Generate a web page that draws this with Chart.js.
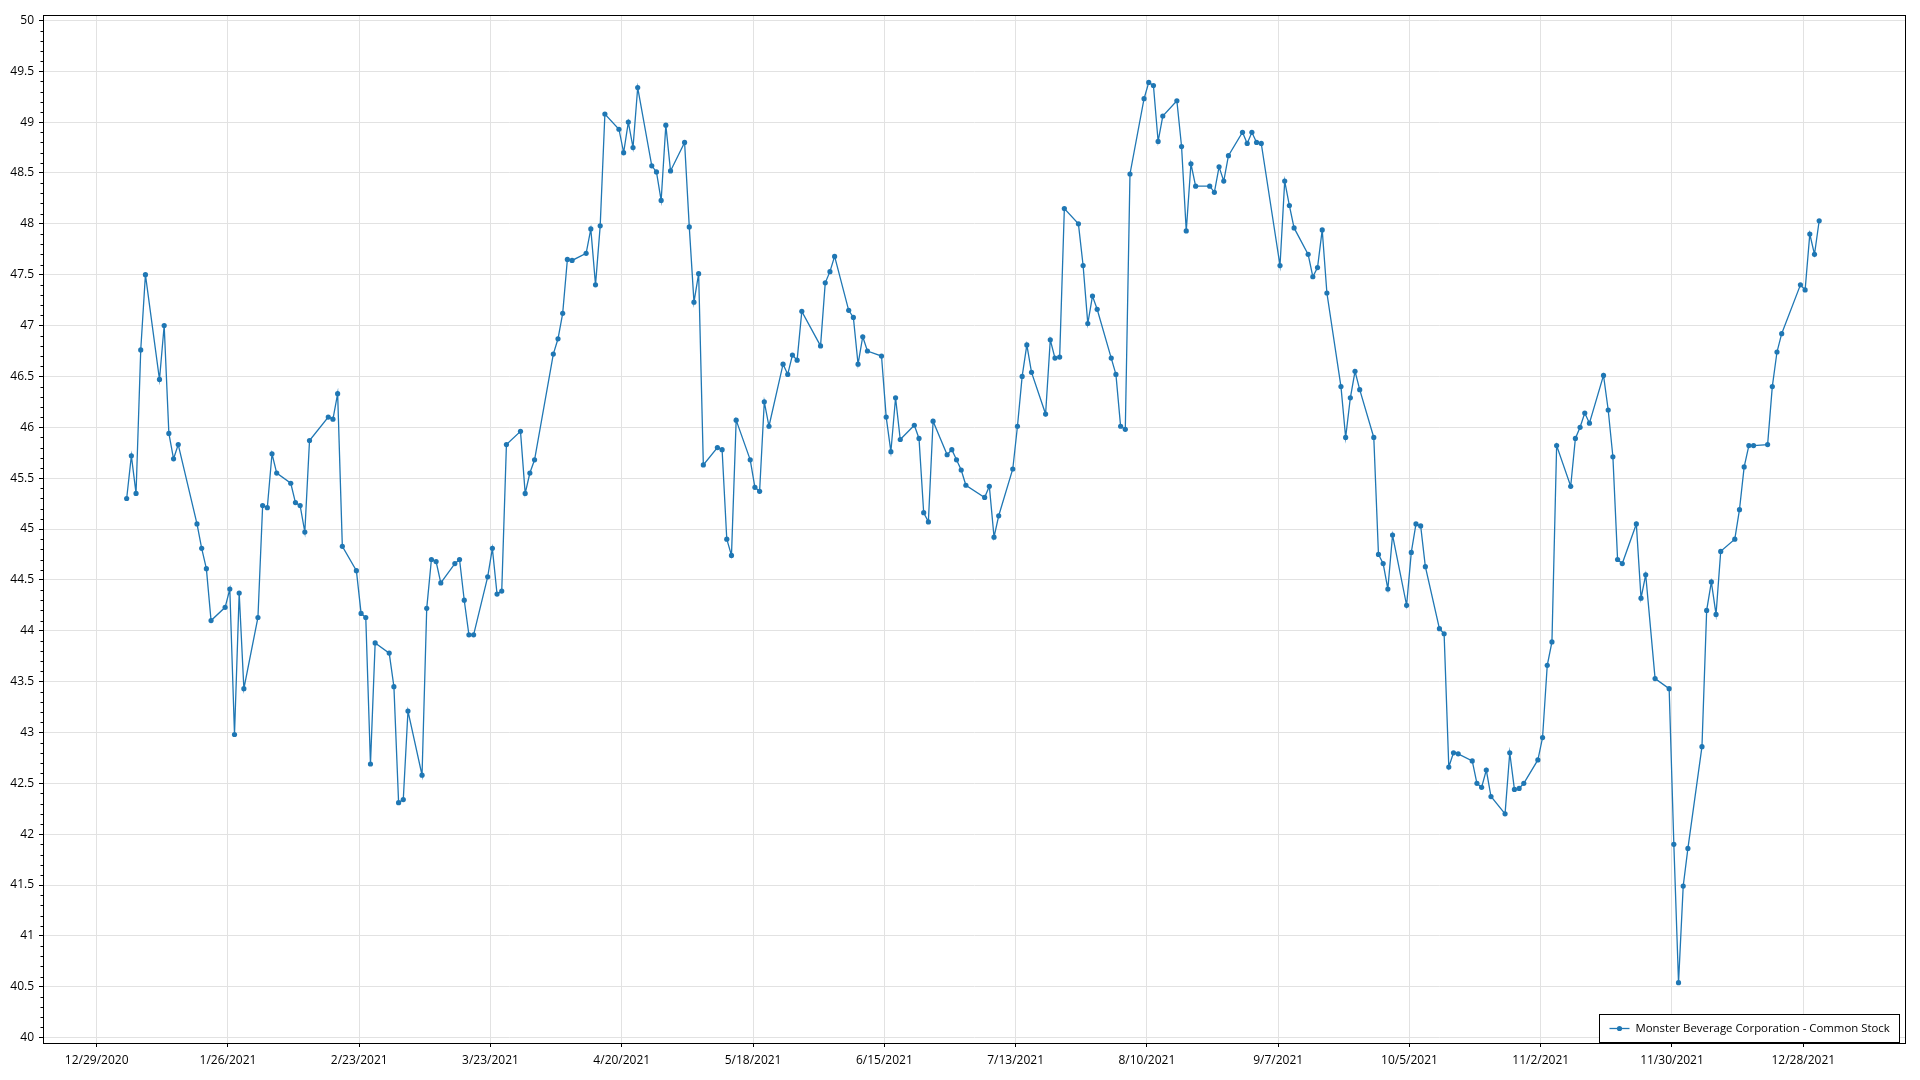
<!DOCTYPE html>
<html>
<head>
<meta charset="utf-8">
<script src="https://cdn.jsdelivr.net/npm/chart.js@4/dist/chart.umd.min.js"></script>
<style>
html,body{margin:0;padding:0;background:#fff;overflow:hidden}
canvas{display:block}
</style>
</head>
<body>
<canvas id="c" width="1920" height="1080"></canvas>
<script>
// ---------------- data ----------------
const seriesLabel = 'Monster Beverage Corporation - Common Stock';
const marketHolidays = ['2021-01-01','2021-01-18','2021-02-15','2021-04-02','2021-05-31','2021-07-05','2021-09-06','2021-11-25','2021-12-24'];

const closeJan = [45.30,45.72,45.35,46.76,47.50,46.47,47.00,45.94,45.69,45.83,45.05,44.81,44.61,44.10,44.23,44.41,42.98,44.37,43.43];
const closeFeb = [44.13,45.23,45.21,45.74,45.55,45.45,45.26,45.23,44.97,45.87,46.10,46.08,46.33,44.83,44.59,44.17,44.13,42.69,43.88];
const closeMar = [43.78,43.45,42.31,42.34,43.21,42.58,44.22,44.70,44.68,44.47,44.66,44.70,44.30,43.96,43.96,44.53,44.81,44.36,44.39,45.83,45.96,45.35,45.55];
const closeApr = [45.68,46.72,46.87,47.12,47.65,47.64,47.71,47.95,47.40,47.98,49.08,48.93,48.70,49.00,48.75,49.34,48.57,48.51,48.23,48.97,48.52];
const closeMay = [48.80,47.97,47.23,47.51,45.63,45.80,45.78,44.90,44.74,46.07,45.68,45.41,45.37,46.25,46.01,46.62,46.52,46.71,46.66,47.14];
const closeJun = [46.80,47.42,47.53,47.68,47.15,47.08,46.62,46.89,46.75,46.70,46.10,45.76,46.29,45.88,46.02,45.89,45.16,45.07,46.06,45.73,45.78,45.68];
const closeJul = [45.58,45.43,45.31,45.42,44.92,45.13,45.59,46.01,46.50,46.81,46.54,46.13,46.86,46.68,46.69,48.15,48.00,47.59,47.02,47.29,47.16];
const closeAug = [46.68,46.52,46.01,45.98,48.49,49.23,49.39,49.36,48.81,49.06,49.21,48.76,47.93,48.59,48.37,48.37,48.31,48.56,48.42,48.67,48.90,48.79];
const closeSep = [48.90,48.80,48.79,47.59,48.42,48.18,47.96,47.70,47.48,47.57,47.94,47.32,46.40,45.90,46.29,46.55,46.37,45.90,44.75,44.66,44.41];
const closeOct = [44.94,44.25,44.77,45.05,45.03,44.63,44.02,43.97,42.66,42.80,42.79,42.72,42.50,42.46,42.63,42.37,42.20,42.80,42.44,42.45,42.50];
const closeNov = [42.73,42.95,43.66,43.89,45.82,45.42,45.89,46.00,46.14,46.04,46.51,46.17,45.71,44.70,44.66,45.05,44.32,44.55,43.53,43.43,41.90];
const closeDec = [40.54,41.49,41.86,42.86,44.20,44.48,44.16,44.78,44.90,45.19,45.61,45.82,45.82,45.83,46.40,46.74,46.92,47.40,47.35,47.90,47.70,48.03];

const xTickLabels = ['12/29/2020','1/26/2021','2/23/2021','3/23/2021','4/20/2021','5/18/2021','6/15/2021','7/13/2021','8/10/2021','9/7/2021','10/5/2021','11/2/2021','11/30/2021','12/28/2021'];
const yTickLabels = ['40','40.5','41','41.5','42','42.5','43','43.5','44','44.5','45','45.5','46','46.5','47','47.5','48','48.5','49','49.5','50'];

// ---------------- build ----------------
const DAY = 86400000;
const origin = Date.UTC(2020, 11, 29);
const sessionOffset = 9.5 / 24; // quotes stamped at market open
const monthly = [closeJan,closeFeb,closeMar,closeApr,closeMay,closeJun,closeJul,closeAug,closeSep,closeOct,closeNov,closeDec];

function iso(t){ return new Date(t).toISOString().slice(0,10); }
const points = [];
for (let m = 0; m < 12; m++) {
  const vals = monthly[m];
  let k = 0;
  const days = new Date(Date.UTC(2021, m + 1, 0)).getUTCDate();
  for (let d = 1; d <= days; d++) {
    const t = Date.UTC(2021, m, d);
    const wd = new Date(t).getUTCDay();
    if (wd === 0 || wd === 6 || marketHolidays.includes(iso(t))) continue;
    if (k < vals.length) points.push({ x: (t - origin) / DAY + sessionOffset, y: vals[k] });
    k++;
  }
}
function parseMDY(s){ const [mo,da,yr] = s.split('/').map(Number); return (Date.UTC(yr, mo-1, da) - origin) / DAY; }
const xTickValues = xTickLabels.map(parseMDY);
const yTickValues = yTickLabels.map(Number);

const FONT = '"Open Sans", "Noto Sans", sans-serif';
const lineColor = '#1f77b4';

const frame = {
  id: 'frame',
  afterDraw(chart) {
    const { ctx, chartArea: a, scales } = chart;
    ctx.save();
    // minor ticks on y axis
    ctx.strokeStyle = '#000';
    ctx.lineWidth = 1;
    const ys = scales.y;
    ctx.beginPath();
    for (let i = 0; i <= 100; i++) {
      const v = 40 + i * 0.1;
      if (i % 5 === 0) continue;
      const py = Math.round(ys.getPixelForValue(v)) + 0.5;
      ctx.moveTo(a.left - 2.5, py); ctx.lineTo(a.left, py);
    }
    ctx.stroke();
    // plot border
    ctx.strokeRect(Math.round(a.left) + 0.5, Math.round(a.top) + 0.5, Math.round(a.right - a.left), Math.round(a.bottom - a.top));
    // legend
    const text = chart.data.datasets[0].label;
    ctx.font = '11.4px ' + FONT;
    const tw = ctx.measureText(text).width;
    const h = 28, padL = 10, sample = 20, gap = 6, padR = 10;
    const w = Math.round(padL + sample + gap + tw + padR);
    const bx = Math.round(a.right - 6 - w) + 0.5, by = Math.round(a.bottom - 1 - h) + 0.5;
    ctx.fillStyle = '#fff';
    ctx.fillRect(bx, by, w, h);
    ctx.strokeStyle = '#000';
    ctx.strokeRect(bx, by, w, h);
    const cy = by + h / 2;
    ctx.strokeStyle = lineColor; ctx.lineWidth = 1.3;
    ctx.beginPath(); ctx.moveTo(bx + padL, cy); ctx.lineTo(bx + padL + sample, cy); ctx.stroke();
    ctx.fillStyle = lineColor;
    ctx.beginPath(); ctx.arc(bx + padL + sample / 2, cy, 2.6, 0, Math.PI * 2); ctx.fill();
    ctx.fillStyle = '#000';
    ctx.textBaseline = 'middle';
    ctx.fillText(text, bx + padL + sample + gap, cy);
    ctx.restore();
  }
};

new Chart(document.getElementById('c'), {
  type: 'line',
  data: {
    datasets: [{
      label: seriesLabel,
      data: points,
      borderColor: lineColor,
      backgroundColor: lineColor,
      borderWidth: 1.3,
      pointRadius: 2.6,
      pointBorderWidth: 0,
      pointBackgroundColor: lineColor,
      tension: 0,
      fill: false
    }]
  },
  options: {
    responsive: false,
    animation: false,
    devicePixelRatio: 1,
    layout: { padding: { top: 15, right: 15, left: 0, bottom: 0 } },
    plugins: { legend: { display: false }, tooltip: { enabled: false } },
    scales: {
      x: {
        type: 'linear',
        min: -11.45,
        max: 385.7,
        afterBuildTicks: s => { s.ticks = xTickValues.map(v => ({ value: v })); },
        afterFit: s => { s.height = 37; },
        ticks: {
          autoSkip: false, maxRotation: 0, padding: 6,
          color: '#000', font: { family: FONT, size: 12 },
          callback: (v, i) => xTickLabels[i]
        },
        grid: { color: '#e2e2e2', tickColor: '#000', tickLength: 4, lineWidth: 1 },
        border: { color: '#000', width: 1 }
      },
      y: {
        type: 'linear',
        min: 39.947,
        max: 50.053,
        afterBuildTicks: s => { s.ticks = yTickValues.map(v => ({ value: v })); },
        afterFit: s => { s.width = 43; },
        ticks: {
          padding: 5,
          color: '#000', font: { family: FONT, size: 12 },
          callback: (v, i) => yTickLabels[i]
        },
        grid: { color: '#e2e2e2', tickColor: '#000', tickLength: 4, lineWidth: 1 },
        border: { color: '#000', width: 1 }
      }
    }
  },
  plugins: [frame]
});
</script>
</body>
</html>
